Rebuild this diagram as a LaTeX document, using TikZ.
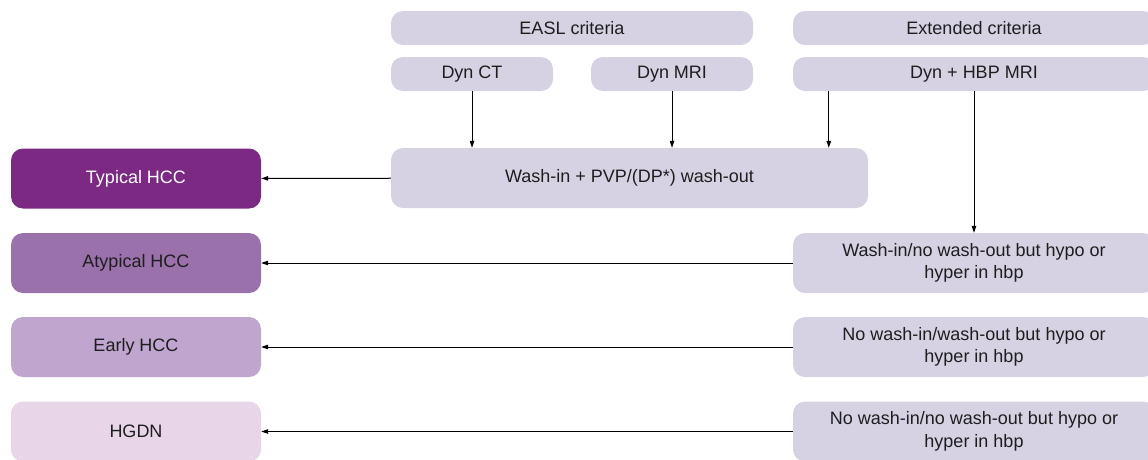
\documentclass[tikz,border=0pt]{standalone}
\usepackage{fontspec}
\setmainfont{Liberation Sans}
\usetikzlibrary{arrows.meta, positioning}
\definecolor{critgrey}{RGB}{214, 210, 228}
\definecolor{hccdark}{RGB}{123, 41, 131}
\definecolor{hccmid}{RGB}{154, 113, 171}
\definecolor{hcclight}{RGB}{192, 165, 207}
\definecolor{hgdnpale}{RGB}{232, 214, 232}
\definecolor{txtdark}{RGB}{30, 30, 30}

\begin{document}
\begin{tikzpicture}[x=1pt, y=-1pt,
  box/.style={rounded corners=12pt, inner sep=0pt, align=center, text=txtdark,
    font=\fontsize{18}{22.5}\selectfont},
  crit/.style={box, fill=critgrey, minimum width=362pt, minimum height=34pt},
  modality/.style={box, fill=critgrey, minimum width=162pt, minimum height=34pt},
  finding/.style={box, fill=critgrey, minimum width=362pt, minimum height=60pt},
  lesion/.style={box, minimum width=250pt, minimum height=60pt},
  arr/.style={-{Triangle[length=7pt, width=4.5pt]}, line width=1pt, black}]
  \useasboundingbox (0,0) rectangle (1148,459);

  % Criteria headers
  \node[crit] (easl) at (572, 28) {EASL criteria};
  \node[crit] (ext) at (974, 28) {Extended criteria};

  % Imaging modalities
  \node[modality] (dynct) at (472, 74) {Dyn CT};
  \node[modality] (dynmri) at (672, 74) {Dyn MRI};
  \node[crit] (dynhbp) at (974, 74) {Dyn + HBP MRI};

  % Imaging findings
  \node[finding, minimum width=477pt] (wash) at (629.5, 178) {Wash-in + PVP/(DP*) wash-out};
  \node[finding] (nowashout) at (974, 263) {Wash-in/no wash-out but hypo or\\hyper in hbp};
  \node[finding] (nowashin) at (974, 347) {No wash-in/wash-out but hypo or\\hyper in hbp};
  \node[finding] (nowash) at (974, 431.5) {No wash-in/no wash-out but hypo or\\hyper in hbp};

  % Diagnoses
  \node[lesion, fill=hccdark, text=white] (typical) at (136, 178.5) {Typical HCC};
  \node[lesion, fill=hccmid] (atypical) at (136, 263) {Atypical HCC};
  \node[lesion, fill=hcclight] (early) at (136, 347) {Early HCC};
  \node[lesion, fill=hgdnpale] (hgdn) at (136, 431.5) {HGDN};

  % Arrows
  \draw[arr] (dynct) -- (dynct |- wash.north);
  \draw[arr] (dynmri) -- (dynmri |- wash.north);
  \coordinate (extout) at ([xshift=36pt]dynhbp.south west);
  \draw[arr] (extout) -- (extout |- wash.north);
  \draw[arr] (dynhbp) -- (nowashout);
  \draw[arr] (wash) -- (typical);
  \draw[arr] (nowashout) -- (atypical);
  \draw[arr] (nowashin) -- (early);
  \draw[arr] (nowash) -- (hgdn);
\end{tikzpicture}
\end{document}
